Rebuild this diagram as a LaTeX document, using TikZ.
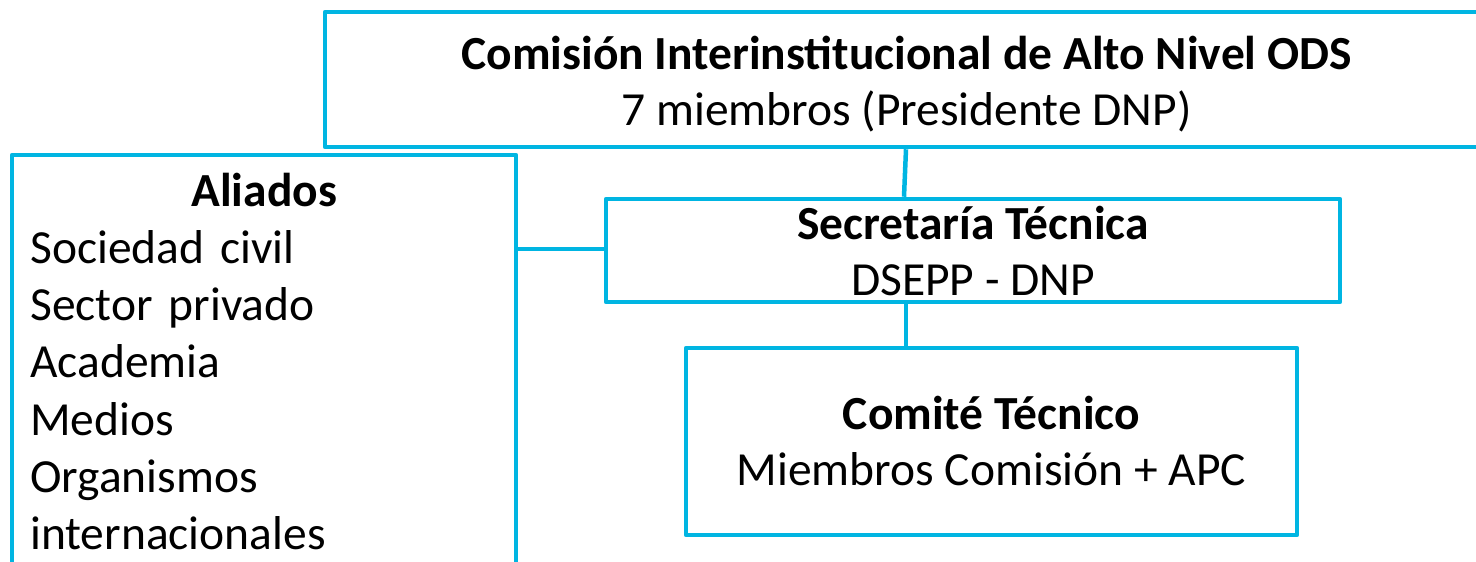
\documentclass[tikz,border=0pt]{standalone}
\usepackage{fontspec}
\setmainfont{Carlito}
\definecolor{boxcyan}{HTML}{00B5E2}
\begin{document}
\begin{tikzpicture}[x=1pt,y=-1pt,
  orgbox/.style={draw=boxcyan, line width=4.5pt, rectangle, inner sep=0pt, align=center,
    font=\fontsize{47.5}{56}\selectfont, line join=round},
  link/.style={draw=boxcyan, line width=4.5pt}]
\useasboundingbox (0,0) rectangle (1476,562);
\node[orgbox, minimum width=1163pt, minimum height=135pt] (top) at (906.5,79.5)
  {\rule{0pt}{42pt}\textbf{Comisión Interinstitucional de Alto Nivel ODS}\\7 miembros (Presidente DNP)};
\node[orgbox, minimum width=734pt, minimum height=103pt] (sec) at (973,250.5)
  {\textbf{Secretaría Técnica}\\DSEPP - DNP};
\node[orgbox, minimum width=611pt, minimum height=187pt] (com) at (991.5,441.5)
  {\textbf{Comité Técnico}\\Miembros Comisión + APC};
\node[orgbox, minimum width=504pt, minimum height=445pt] (ali) at (264,377.5) {};
\node[anchor=north west, inner sep=0pt, text width=468pt, align=left,
  font=\fontsize{47.5}{57.3}\selectfont] (alitext) at (30,172.5)
  {\makebox[\linewidth]{\textbf{Aliados}}\\Sociedad civil\\Sector privado\\Academia\\Medios\\Organismos\\internacionales};
\draw[link] (top.south -| 906,0) -- (sec.north -| 904,0);
\draw[link] (sec.south -| 906,0) -- (com.north -| 906,0);
\draw[link] (ali.east |- 0,249) -- (sec.west |- 0,249);
\end{tikzpicture}
\end{document}
